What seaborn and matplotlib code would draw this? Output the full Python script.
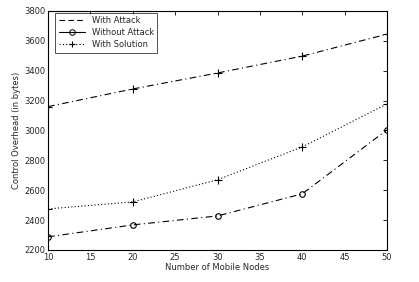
import matplotlib
matplotlib.use("Agg")
import matplotlib.pyplot as plt
import seaborn as sns
import pandas as pd
from matplotlib.lines import Line2D

nodes = [10, 20, 30, 40, 50]
with_attack = [3160, 3278, 3385, 3498, 3645]
without_attack = [2288, 2368, 2428, 2576, 3004]
with_solution = [2475, 2522, 2670, 2890, 3178]
series_names = ["With Attack", "Without Attack", "With Solution"]
x_ticks = [10, 15, 20, 25, 30, 35, 40, 45, 50]
y_ticks = [2200, 2400, 2600, 2800, 3000, 3200, 3400, 3600, 3800]

sns.set_style("white")
plt.rcParams['font.family'] = ['DejaVu Sans']

fig = plt.figure(figsize=(4.19, 2.82), dpi=100)
ax = fig.add_axes([0.1146, 0.1135, 0.809, 0.8475])

dashes = {"With Attack": (6, 3, 1, 3), "Without Attack": (6, 3, 1, 3), "With Solution": (1, 2)}
markers = {"With Attack": "+", "Without Attack": "o", "With Solution": "+"}
msize = {"With Attack": 6, "Without Attack": 4, "With Solution": 6}

for name, vals in zip(series_names, [with_attack, without_attack, with_solution]):
    df = pd.DataFrame({"x": nodes, "y": vals, "series": name})
    sns.lineplot(data=df, x="x", y="y", style="series",
                 dashes={name: dashes[name]}, markers={name: markers[name]},
                 color='black', lw=0.8, markersize=msize[name], markeredgewidth=0.8,
                 markerfacecolor='none', markeredgecolor='black', legend=False, ax=ax)

legend_styles = [
    dict(linestyle=(0, (5, 3))),
    dict(linestyle='-', marker='o', markersize=4, fillstyle='none', mew=0.7),
    dict(linestyle=(0, (1, 2)), marker='+', markersize=5, mew=0.8),
]
handles = [Line2D([], [], color='black', lw=0.8, **ls) for ls in legend_styles]
leg = ax.legend(handles, series_names, loc='upper left', fontsize=6,
                frameon=True, fancybox=False, edgecolor='black',
                handlelength=3.2, borderaxespad=0.25, labelspacing=0.35,
                bbox_to_anchor=(0.015, 1.0))
leg.get_frame().set_linewidth(0.6)

ax.set_xlim(10, 50)
ax.set_ylim(2200, 3800)
ax.set_xticks(x_ticks)
ax.set_yticks(y_ticks)
ax.tick_params(direction='in', length=3, width=0.7, labelsize=6, top=True, right=True, pad=2)
for s in ax.spines.values():
    s.set_color('black')
    s.set_linewidth(0.8)
ax.set_xlabel("Number of Mobile Nodes", fontsize=6, labelpad=1)
ax.set_ylabel("Control Overhead (in bytes)", fontsize=6, labelpad=2)

fig.savefig("out.png", dpi=100, facecolor='white')
